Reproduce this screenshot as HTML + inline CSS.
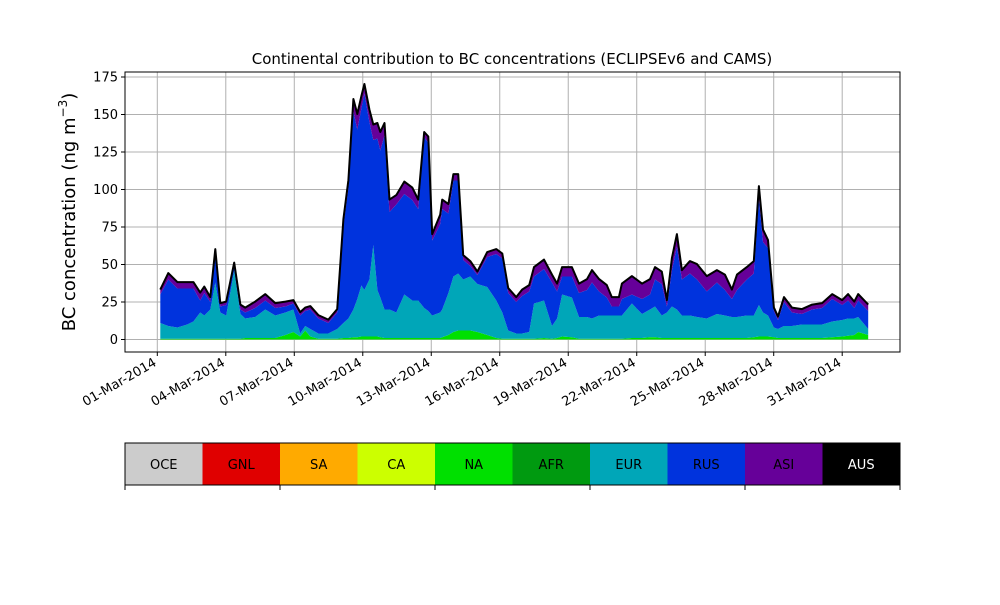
<!DOCTYPE html>
<html><head><meta charset="utf-8"><style>
html,body{margin:0;padding:0;background:#fff;}
svg text{font-family:"DejaVu Sans","Liberation Sans",sans-serif;}
</style></head><body>
<svg id="chart" width="1000" height="600" xmlns="http://www.w3.org/2000/svg">
<g id="grid"></g>
<g id="areas"></g>
<g id="axes"></g>
<text x="512" y="64" font-size="15" text-anchor="middle">Continental contribution to BC concentrations (ECLIPSEv6 and CAMS)</text>
<text transform="translate(75,212) rotate(-90)" font-size="18" text-anchor="middle">BC concentration (ng m<tspan font-size="12" dy="-8">−3</tspan><tspan dy="8">)</tspan></text>
<g id="legend"></g>
</svg>
<script>
const days=[0.13,0.48,0.88,1.31,1.58,1.88,2.06,2.32,2.54,2.76,3.02,3.37,3.64,3.85,4.29,4.73,5.17,5.61,5.96,6.26,6.48,6.70,7.05,7.49,7.88,8.15,8.37,8.59,8.76,8.94,9.07,9.29,9.46,9.64,9.77,9.95,10.17,10.47,10.82,11.17,11.43,11.69,11.87,12.04,12.39,12.48,12.75,12.97,13.18,13.40,13.71,14.02,14.45,14.85,15.11,15.37,15.72,15.98,16.29,16.50,16.94,17.29,17.51,17.73,18.16,18.47,18.82,19.04,19.35,19.69,19.91,20.22,20.35,20.79,21.23,21.58,21.80,22.10,22.32,22.54,22.76,22.98,23.33,23.64,24.07,24.51,24.86,25.17,25.39,25.82,26.13,26.35,26.53,26.75,27.01,27.19,27.45,27.80,28.24,28.68,29.12,29.56,30.00,30.26,30.53,30.70,31.14];
const na=[0.5,0.5,0.5,0.5,0.5,0.5,0.5,0.5,0.5,0.5,0.5,0.5,0.5,1,1,1,1,3,5,2,6,2,0.5,0.5,0.5,1,1,1.5,1.5,2,2,2,2,2,1.5,1,1,1,1,1,1,1,1,1,1,1.5,3,5,6,6,6,5,3,1,0.5,0.5,0.5,0.5,0.5,0.5,1,0.5,1,2,1.5,0.5,0.5,0.5,0.5,0.5,0.5,0.5,0.5,1,1,1.5,1.5,1,1,1,1,1,1,1,1,1,1,1,1,1,1.5,2,2,2,1.5,1,1,1,1,1,1,1.5,2,2.5,3,5,3];
const eur=[10.5,8.5,7.5,9.5,11.5,17.5,15.5,19.5,37.5,17.5,15.5,45.5,16.5,13,14,19,15,15,15,2,3,5,3.5,3.5,6.5,10,13,18.5,25.5,34,31,38,61,31,26.5,19,19,17,29,25,25,20,18,15,17,18.5,28,37,38,34,36,32,32,25,17.5,5.5,3.5,3.5,4.5,23.5,25,8.5,13,28,26.5,14.5,14.5,13.5,15.5,15.5,15.5,15.5,15.5,23,16,18.5,20.5,15,17,21,19,15,15,14,13,16,15,14,14,15,14.5,21,16,14,6.5,6,8,8,9,9,9,10.5,11,11.5,11,10,4];
const rus=[19,31,26,24,22,8,15,5,19,4,7,3,3,4,6,6,5,4,4,12,10,13,10,7,11,65,87,132,113,118,131,105,70,101,98,116,65,72,67,67,61,114,112,50,59,67,53,64,62,13,7,6,20,31,36,25,21,25,27,18,21,29,18,12,14,16,18,24,16,12,6,6,11,6,10,10,18,21,4,24,42,24,28,25,18,21,17,12,18,24,28,71,47,45,11,6,16,9,7,10,11,15,10,12,7,11,12];
const asi=[3,4,4,4,4,5,4,3,3,2,2,2,3,3,4,4,3,3,2,2,2,2,2,2,2,4,5,8,10,8,6,8,10,10,12,8,8,6,8,8,6,3,4,4,6,6,6,4,4,3,3,2,3,3,3,3,3,4,4,6,6,5,5,6,6,6,7,8,8,8,6,6,10,12,10,10,8,8,4,8,8,6,8,10,10,8,10,6,10,8,8,8,8,5,2,2,3,3,3,3,3,3,3,4,4,4,4];
const aus=days.map(()=>0.3);
const yTicks=[0,25,50,75,100,125,150,175];
const xTickDays=[0,3,6,9,12,15,18,21,24,27,30];
const xTickLabels=["01-Mar-2014","04-Mar-2014","07-Mar-2014","10-Mar-2014","13-Mar-2014","16-Mar-2014","19-Mar-2014","22-Mar-2014","25-Mar-2014","28-Mar-2014","31-Mar-2014"];
const regions=["OCE","GNL","SA","CA","NA","AFR","EUR","RUS","ASI","AUS"];
const regionColors=["#cccccc","#e00000","#ffaa00","#ccff00","#00e000","#009a10","#00a6b8","#0033dd","#660099","#000000"];

const NS="http://www.w3.org/2000/svg";
const L=125,R=900,T=72,B=352;
const xs=d=>157.3+d*22.83;
const ys=v=>339.5-v*1.5;
function mk(tag,attrs,parent){const e=document.createElementNS(NS,tag);for(const k in attrs)e.setAttribute(k,attrs[k]);parent.appendChild(e);return e;}
const grid=document.getElementById('grid'),areas=document.getElementById('areas'),axes=document.getElementById('axes'),legend=document.getElementById('legend');
yTicks.forEach(v=>{const y=ys(v);
 const g=mk('line',{x1:L,x2:R,y1:y,y2:y,stroke:'#b0b0b0','stroke-width':1},grid);
 
 
 const t=mk('line',{x1:L-4,x2:L,y1:y,y2:y,stroke:'#000'},axes);
 
 
 const tx=mk('text',{x:L-7,y:y+4.5,'font-size':13,'text-anchor':'end'},axes);tx.textContent=v;
 
 
});
xTickDays.forEach((d,i)=>{const x=xs(d);
 const g=mk('line',{x1:x,x2:x,y1:T,y2:B,stroke:'#b0b0b0','stroke-width':1},grid);
 
 
 const t=mk('line',{x1:x,x2:x,y1:B,y2:B+4,stroke:'#000'},axes);
 
 
 const tx=mk('text',{x:x,y:B+13,'font-size':13,'text-anchor':'end',transform:`rotate(-30 ${x} ${B+13})`},axes);tx.textContent=xTickLabels[i];
 
 
});
const series=[na,eur,rus,asi,aus];
const cols=[regionColors[4],regionColors[6],regionColors[7],regionColors[8],regionColors[9]];
const names=['na-area','eur-area','rus-area','asi-area','aus-area'];
let base=days.map(()=>0);
series.forEach((s,k)=>{
 const top=base.map((b,i)=>b+s[i]);
 let d='M'+days.map((t,i)=>xs(t).toFixed(1)+','+ys(top[i]).toFixed(1)).join('L');
 for(let i=days.length-1;i>=0;i--)d+='L'+xs(days[i]).toFixed(1)+','+ys(base[i]).toFixed(1);
 const p=mk('path',{d:d+'Z',fill:cols[k],stroke:'none'},areas);
 
 
 base=top;
});
const topLine=mk('path',{d:'M'+days.map((t,i)=>xs(t).toFixed(1)+','+ys(base[i]).toFixed(1)).join('L'),fill:'none',stroke:'#000','stroke-width':2,'stroke-linejoin':'round'},areas);


const frame=mk('rect',{x:L,y:T,width:R-L,height:B-T,fill:'none',stroke:'#000','stroke-width':1},axes);


const cw=(R-L)/regions.length;
regions.forEach((r,i)=>{
 const c=mk('rect',{x:L+i*cw,y:443,width:cw,height:42,fill:regionColors[i]},legend);
 
 
 const t=mk('text',{x:L+i*cw+cw/2,y:469,'font-size':13,'text-anchor':'middle',fill:r==='AUS'?'#fff':'#000'},legend);t.textContent=r;
 
 
});
const lf=mk('rect',{x:L,y:443,width:R-L,height:42,fill:'none',stroke:'#000'},legend);


for(let i=0;i<=regions.length;i+=2){
 const t=mk('line',{x1:L+i*cw,x2:L+i*cw,y1:485,y2:490,stroke:'#000'},legend);
 
 
}
</script>
</body></html>
